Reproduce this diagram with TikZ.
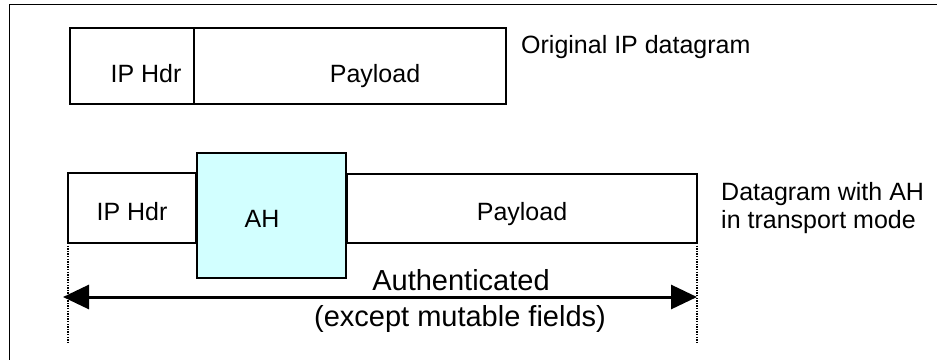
\documentclass[tikz,border=0pt]{standalone}
\usepackage{fontspec}
\setmainfont{Liberation Sans}
\usetikzlibrary{arrows.meta}
\definecolor{ahfill}{HTML}{D2FFFF}
\tikzset{
  pbox/.style={draw=black, line width=1.3pt, inner sep=0pt, outer sep=0pt},
  lbl/.style={inner sep=0pt, anchor=base, font=\fontsize{25}{29}\selectfont},
  lblL/.style={inner sep=0pt, anchor=base west, font=\fontsize{25}{29}\selectfont},
  biglbl/.style={inner sep=0pt, anchor=base, font=\fontsize{29}{33}\selectfont},
  frameline/.style={line width=1pt},
  guide/.style={line width=1.3pt, dash pattern=on 1.3pt off 1.3pt},
  authar/.style={line width=3pt, {Triangle[length=26pt,width=24pt]}-{Triangle[length=26pt,width=24pt]}}
}
\begin{document}
\begin{tikzpicture}[x=1pt,y=-1pt]
\useasboundingbox (0,0) rectangle (937,360);
% frame
\coordinate (ftl) at (9,4);
\coordinate (ftr) at (937,4);
\coordinate (fbl) at (9,360);
\draw[frameline] (ftr) -- (ftl) -- (fbl);
% original datagram
\node[pbox, minimum width=124pt, minimum height=76pt] (iph1) at (132,66) {};
\node[pbox, minimum width=312pt, minimum height=76pt] (pay1) at (350,66) {};
\node[lbl] (t-iph1) at (146,82) {IP Hdr};
\node[lbl] (t-pay1) at (375,82) {Payload};
\node[lblL] (t-orig) at (521,53) {Original IP datagram};
% datagram with AH
\node[pbox, minimum width=128pt, minimum height=70pt] (iph2) at (132,208) {};
\node[pbox, fill=ahfill, minimum width=149pt, minimum height=125pt] (ah) at (271.5,215.5) {};
\node[pbox, minimum width=350pt, minimum height=69pt] (pay2) at (522,208.5) {};
\node[lbl] (t-iph2) at (132,220) {IP Hdr};
\node[lbl] (t-ah) at (262,227) {AH};
\node[lbl] (t-pay2) at (522,220) {Payload};
\node[lblL] (t-dg1) at (721,200) {Datagram with AH};
\node[lblL] (t-dg2) at (721,228) {in transport mode};
% guides
\coordinate (gl) at (68,343);
\coordinate (gr) at (697,343);
\draw[guide] (iph2.south west) -- (gl);
\draw[guide] (pay2.south east) -- (gr);
% arrow
\coordinate (al) at (63,297);
\coordinate (ar) at (697,297);
\draw[authar] (al) -- (ar);
\node[biglbl] (t-auth) at (461,290) {Authenticated};
\node[biglbl] (t-exc) at (460,326) {(except mutable fields)};
\end{tikzpicture}
\end{document}
